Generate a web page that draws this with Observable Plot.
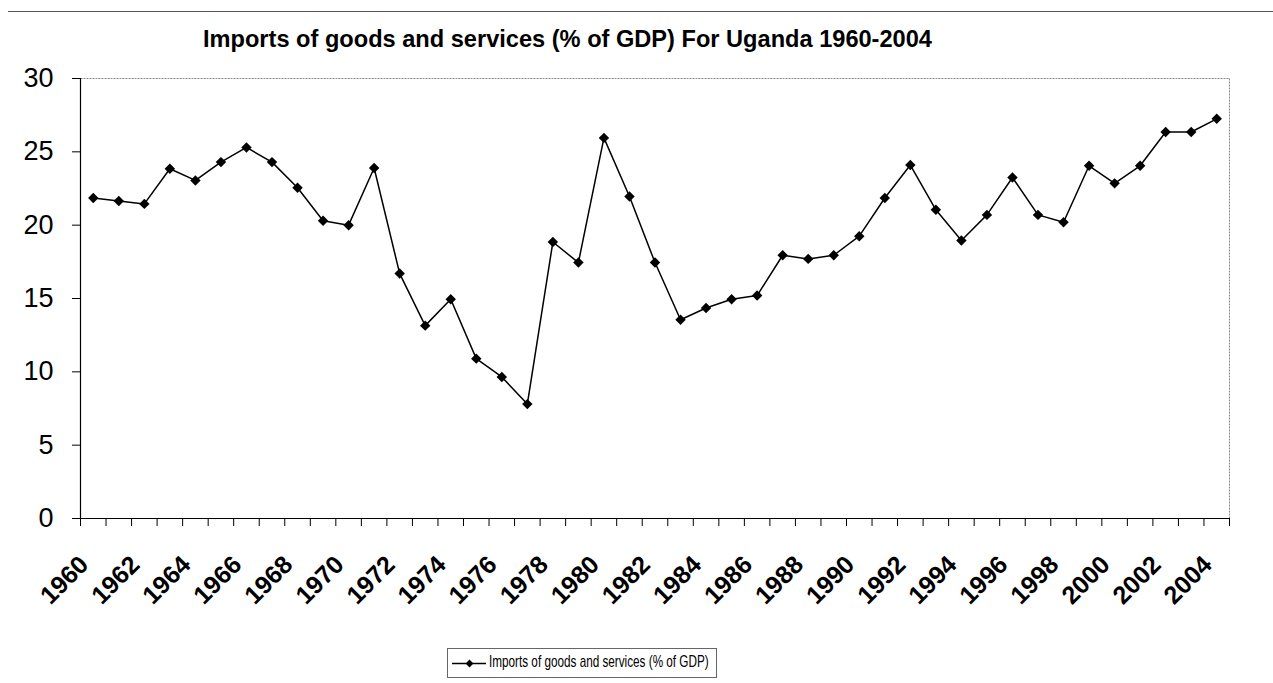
<!DOCTYPE html>
<html>
<head>
<meta charset="utf-8">
<script src="https://cdn.jsdelivr.net/npm/d3@7"></script>
<script src="https://cdn.jsdelivr.net/npm/@observablehq/plot@0.6"></script>
<style>
  html, body { margin: 0; padding: 0; background: #fff; }
  #wrap { position: relative; width: 1273px; height: 683px; overflow: hidden; font-family: "Liberation Sans Narrow", "Arial Narrow", "Liberation Sans", sans-serif; }
  #topline { position: absolute; left: 8px; top: 11px; width: 1265px; height: 0; border-top: 1.5px solid #555; }
  #title { position: absolute; left: 203px; top: 26px; font-size: 23.6px; font-weight: bold; color: #000; white-space: nowrap; }
  #chart { position: absolute; left: 0; top: 0; }
  #legend { position: absolute; left: 447px; top: 648px; width: 270px; height: 30px; border: 1px solid #666; box-sizing: border-box; background: #fff; overflow: hidden; }
  #legend svg { position: absolute; left: 4px; top: 7px; }
  #legend span { position: absolute; left: 41px; top: 3px; font-size: 17px; color: #000; white-space: nowrap; transform: scaleX(0.69); transform-origin: 0 50%; }
</style>
</head>
<body>
<div id="wrap">
  <div id="topline"></div>
  <div id="chart"></div>
  <div id="title"></div>
  <div id="legend"></div>
</div>
<script>
const titleText = "Imports of goods and services (% of GDP) For Uganda 1960-2004";
const seriesName = "Imports of goods and services (% of GDP)";
const years = [1960,1961,1962,1963,1964,1965,1966,1967,1968,1969,1970,1971,1972,1973,1974,1975,1976,1977,1978,1979,1980,1981,1982,1983,1984,1985,1986,1987,1988,1989,1990,1991,1992,1993,1994,1995,1996,1997,1998,1999,2000,2001,2002,2003,2004];
const values = [21.85,21.65,21.45,23.85,23.05,24.3,25.3,24.3,22.55,20.3,20.0,23.9,16.7,13.15,14.95,10.9,9.65,7.8,18.85,17.45,25.95,21.95,17.45,13.55,14.35,14.95,15.2,17.95,17.7,17.95,19.25,21.85,24.1,21.05,18.95,20.7,23.25,20.7,20.2,24.05,22.85,24.05,26.35,26.35,27.25];
const yTicks = [0,5,10,15,20,25,30];
const xTickLabels = years.filter(y => y % 2 === 0);
const xBoundaries = years.map(y => y - 0.5).concat([years[years.length-1] + 0.5]);

document.getElementById("title").textContent = titleText;

const data = years.map((y, i) => ({year: y, value: values[i]}));
const fontFam = '"Liberation Sans Narrow", "Arial Narrow", "Liberation Sans", sans-serif';

const chart = Plot.plot({
  width: 1273,
  height: 683,
  marginTop: 78,
  marginBottom: 165,
  marginLeft: 80,
  marginRight: 44,
  style: { fontFamily: fontFam, background: "transparent", overflow: "visible" },
  x: { type: "linear", domain: [years[0] - 0.5, years[years.length-1] + 0.5] },
  y: { domain: [0, 30] },
  marks: [
    Plot.frame({ stroke: "#888", strokeDasharray: "2,1" }),
    Plot.ruleX([years[0] - 0.5], { stroke: "#000", strokeWidth: 1.2 }),
    Plot.ruleY([0], { stroke: "#000", strokeWidth: 1.2 }),
    Plot.axisY({ ticks: yTicks, tickSize: 8, tickPadding: 19, fontSize: 27, label: null, tickFormat: d => String(d), stroke: "#000" }),
    Plot.axisX({ ticks: xBoundaries, tickSize: 8, tickFormat: () => "", label: null, stroke: "#000" }),
    Plot.axisX({ ticks: xTickLabels, tickSize: 0, tickPadding: 42, tickRotate: -45, fontSize: 25, fontWeight: "bold", label: null, dx: -9, tickFormat: d => String(d) }),
    Plot.line(data, { x: "year", y: "value", stroke: "#000", strokeWidth: 1.5 }),
    Plot.dot(data, { x: "year", y: "value", symbol: "diamond2", r: 4.7, fill: "#000", stroke: "none" })
  ]
});
document.getElementById("chart").appendChild(chart);

// legend built with Plot symbols
const lg = document.getElementById("legend");
const sym = Plot.plot({
  width: 34, height: 14, margin: 0,
  x: { domain: [0, 1], range: [0, 34], axis: null },
  y: { domain: [0, 1], range: [14, 0], axis: null },
  style: { background: "transparent" },
  marks: [
    Plot.ruleY([0.5], { x1: 0, x2: 1, stroke: "#000", strokeWidth: 1.5 }),
    Plot.dot([0.5], { x: d => d, y: 0.5, symbol: "diamond2", r: 3.5, fill: "#000" })
  ]
});
lg.appendChild(sym);
const sp = document.createElement("span");
sp.textContent = seriesName;
lg.appendChild(sp);
</script>
</body>
</html>
